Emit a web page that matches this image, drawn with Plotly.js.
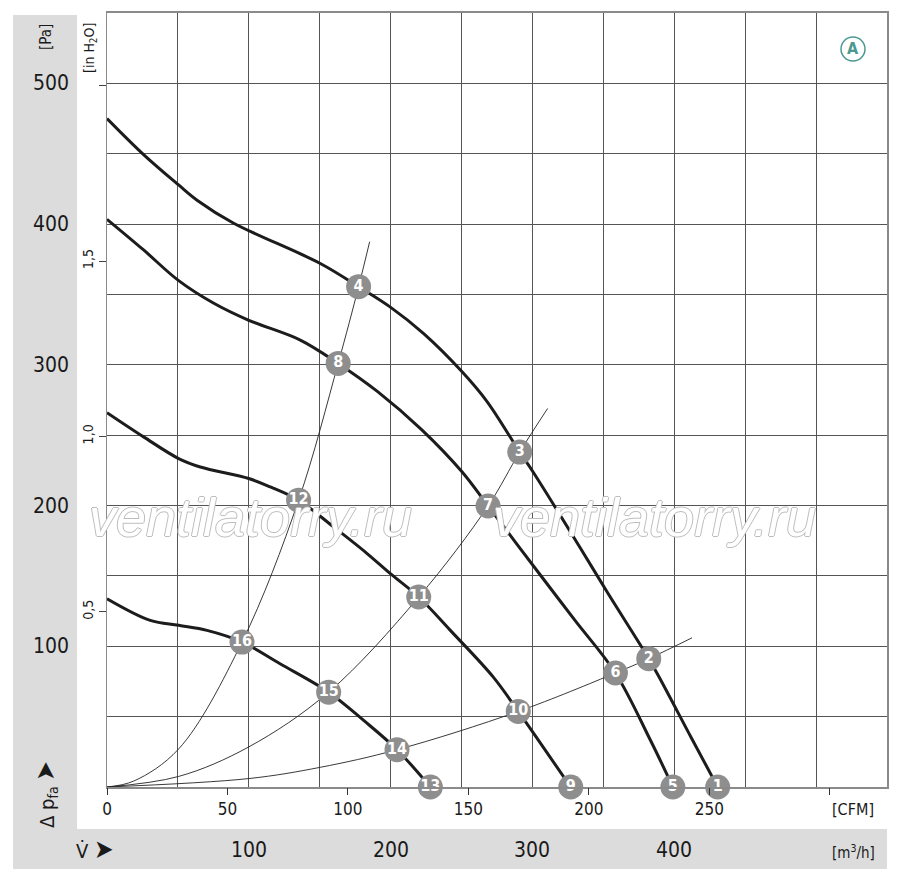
<!DOCTYPE html>
<html><head><meta charset="utf-8">
<script src="https://cdn.plot.ly/plotly-3.0.1.min.js"></script>
<style>html,body{margin:0;padding:0;background:#fff}#chart{width:900px;height:877px}</style>
</head><body><div id="chart"></div>
<script>
// ---- data (flow in m³/h, pressure in Pa) ----
const curve1X = [0, 25.6, 50.5, 63.5, 89, 150.4, 177.4, 199.8, 223.3, 249.9, 268, 291, 300.8, 333, 353, 382, 391, 412, 430.6];
const curve1Y = [475, 449.6, 427.8, 417, 400.8, 372, 355.5, 341, 322.2, 295.6, 273.9, 238, 223.3, 171.1, 138, 91.2, 75, 35, 0];
const curve2X = [0, 25.8, 50.3, 75, 99.6, 136.3, 163, 190.4, 222, 250.3, 268.7, 303, 330, 358.5, 383.2, 399];
const curve2Y = [403.4, 381.6, 360, 343.9, 331.8, 317.6, 301, 281.3, 253.8, 224, 199.7, 154, 118.4, 81, 33.2, 0];
const curve3X = [0, 25.8, 50.5, 65.8, 99.9, 115.2, 135.1, 159.8, 183.4, 199.8, 219.8, 242.1, 272.4, 290, 305, 327];
const curve3Y = [266, 248.8, 233.4, 227.4, 219.2, 213.2, 203.8, 184.8, 165.9, 151.6, 135, 111.3, 78.1, 53.7, 32, 0];
const curve4X = [0, 30.5, 50.5, 70.5, 95.2, 122, 156.3, 181, 204.5, 228];
const curve4Y = [133.8, 118.4, 114.9, 111.3, 103, 87.6, 67.4, 47.3, 26.5, 0];

const systemAX = [0, 18.8, 50.5, 95.2, 135.1, 163, 177.4, 185.2];
const systemAY = [0, 4.2, 27, 103, 203.8, 301, 355.5, 387.5];
const systemBX = [0, 50.5, 100, 156.3, 219.8, 268.7, 291, 310.7];
const systemBY = [0, 7.5, 28.5, 67.4, 135, 199.7, 238, 269];
const systemCX = [0, 100, 150.4, 204.5, 290, 358.5, 382, 412.5];
const systemCY = [0, 6, 14, 26.5, 53.7, 81, 91.2, 106];

const markerX = [430.6, 382, 291, 177.4, 399, 358.5, 268.7, 163, 327, 290, 219.8, 135.1, 228, 204.5, 156.3, 95.2];
const markerY = [0, 91.2, 238, 355.5, 0, 81, 199.7, 301, 0, 53.7, 135, 203.8, 0, 26.5, 67.4, 103];
const markerLabels = ['1','2','3','4','5','6','7','8','9','10','11','12','13','14','15','16'];

const paTicks = [100, 200, 300, 400, 500];
const m3hTicks = [100, 200, 300, 400];
const cfmTicks = [0, 50, 100, 150, 200, 250, 300];
const cfmTickText = ['0', '50', '100', '150', '200', '250', ''];
const inh2oTicks = [0.5, 1, 1.5, 2];
const inh2oTickText = ['0,5', '1,0', '1,5', ''];
const watermarkText = 'ventilatorry.ru';

// unit conversions
const M3H_PER_CFM = 1.699;
const PA_PER_INH2O = 249.09;
const X_MAX = 550, Y_MAX = 550;

// ---- geometry ----
const W = 900, H = 877, L = 107, R = 13, T = 13, B = 90;
const PW = W - L - R, PH = H - T - B;
const px = v => (v - L) / PW;
const py = v => (H - B - v) / PH;
const FONT = '"Liberation Sans Narrow", "DejaVu Sans Condensed", "Arial Narrow", sans-serif';
const BAND = '#dcdcdc';

const curveLine = {color: '#1c1c1c', width: 3, shape: 'spline', smoothing: 1};
const sysLine = {color: '#222', width: 0.9, shape: 'spline', smoothing: 1};
const mk = (x, y, line) => ({x, y, type: 'scatter', mode: 'lines', line, hoverinfo: 'skip', showlegend: false});

const traces = [
  mk(systemAX, systemAY, sysLine), mk(systemBX, systemBY, sysLine), mk(systemCX, systemCY, sysLine),
  mk(curve1X, curve1Y, curveLine), mk(curve2X, curve2Y, curveLine),
  mk(curve3X, curve3Y, curveLine), mk(curve4X, curve4Y, curveLine),
  {x: markerX, y: markerY, text: markerLabels, type: 'scatter', mode: 'markers+text',
   textposition: 'middle center', cliponaxis: false, showlegend: false, hoverinfo: 'skip',
   marker: {size: 25, color: '#8e8e8e', line: {width: 0}},
   textfont: {family: FONT, size: 16, color: '#ffffff', weight: 'bold'}},
  {x: [], y: [], xaxis: 'x2', yaxis: 'y2', type: 'scatter', showlegend: false, hoverinfo: 'skip'}
];

const annotations = [];
paTicks.forEach(v => annotations.push({xref: 'paper', yref: 'y', x: px(71), y: v, xanchor: 'right', yanchor: 'middle',
  text: String(v), showarrow: false, font: {family: FONT, size: 21, color: '#1a1a1a'}}));
m3hTicks.forEach(v => annotations.push({xref: 'x', yref: 'paper', x: v, y: py(850), xanchor: 'center', yanchor: 'middle',
  text: String(v), showarrow: false, font: {family: FONT, size: 21, color: '#1a1a1a'}}));
const txt = (x, y, text, size, opts) => Object.assign({xref: 'paper', yref: 'paper', x: px(x), y: py(y),
  xanchor: 'center', yanchor: 'middle', text, showarrow: false, font: {family: FONT, size, color: '#1a1a1a'}}, opts || {});
annotations.push(txt(46, 37, '[Pa]', 15, {textangle: -90}));
annotations.push(txt(90, 48, '[in H<sub>2</sub>O]', 14, {textangle: -90}));
annotations.push(txt(45, 795, 'Δ p<sub>fa</sub> <span style="font-size:26px">➤</span>', 20, {textangle: -90}));
annotations.push(txt(95, 849, 'V̇ <span style="font-size:26px">➤</span>', 20));
annotations.push(txt(853, 809, '[CFM]', 16));
annotations.push(txt(853, 852, '[m<sup>3</sup>/h]', 15));
annotations.push(txt(853, 49, 'A', 16, {font: {family: FONT, size: 16, color: '#4a9890', weight: 'bold'}}));
const wmShadow = '1px 0 0 #bdbdbd, -1px 0 0 #bdbdbd, 0 1px 0 #bdbdbd, 0 -1px 0 #bdbdbd';
[250, 654].forEach(cx => annotations.push(txt(cx, 517, watermarkText, 54,
  {font: {family: '"Liberation Sans", Arial, sans-serif', size: 54, color: '#ffffff', style: 'italic', shadow: wmShadow}})));

const shapes = [
  {type: 'rect', xref: 'paper', yref: 'paper', x0: px(13), x1: px(77), y0: py(869), y1: py(15), fillcolor: BAND, line: {width: 0}, layer: 'below'},
  {type: 'rect', xref: 'paper', yref: 'paper', x0: px(13), x1: px(887), y0: py(869), y1: py(829), fillcolor: BAND, line: {width: 0}, layer: 'below'},
  {type: 'circle', xref: 'paper', yref: 'paper', x0: px(841), x1: px(865), y0: py(61), y1: py(37), line: {color: '#4a9890', width: 1.5}}
];

const gridAxis = {range: [0, X_MAX], dtick: 50, tick0: 0, showgrid: true, gridcolor: '#555', gridwidth: 1,
  showticklabels: false, ticks: '', zeroline: false, showline: true, linecolor: '#8a8a8a', linewidth: 1.5, mirror: true, fixedrange: true};

const layout = {
  width: W, height: H, margin: {l: L, r: R, t: T, b: B, pad: 0},
  paper_bgcolor: '#ffffff', plot_bgcolor: '#ffffff', showlegend: false, hovermode: false,
  xaxis: Object.assign({}, gridAxis, {range: [0, X_MAX], linewidth: 2}),
  yaxis: Object.assign({}, gridAxis, {range: [0, Y_MAX]}),
  xaxis2: {overlaying: 'x', anchor: 'y', side: 'bottom', range: [0, X_MAX / M3H_PER_CFM],
    tickmode: 'array', tickvals: cfmTicks, ticktext: cfmTickText, ticks: 'outside', ticklen: 7, tickcolor: '#333', tickwidth: 1,
    showgrid: false, zeroline: false, showline: false, tickfont: {family: FONT, size: 17, color: '#1a1a1a'}},
  yaxis2: {overlaying: 'y', anchor: 'x', side: 'left', range: [0, Y_MAX / PA_PER_INH2O],
    tickmode: 'array', tickvals: inh2oTicks, ticktext: inh2oTickText, ticks: 'outside', ticklen: 7, tickcolor: '#444', tickwidth: 1,
    tickangle: -90, showgrid: false, zeroline: false, showline: false, tickfont: {family: FONT, size: 14, color: '#1a1a1a'}},
  annotations, shapes
};

Plotly.newPlot('chart', traces, layout, {staticPlot: true, displayModeBar: false});
</script></body></html>
